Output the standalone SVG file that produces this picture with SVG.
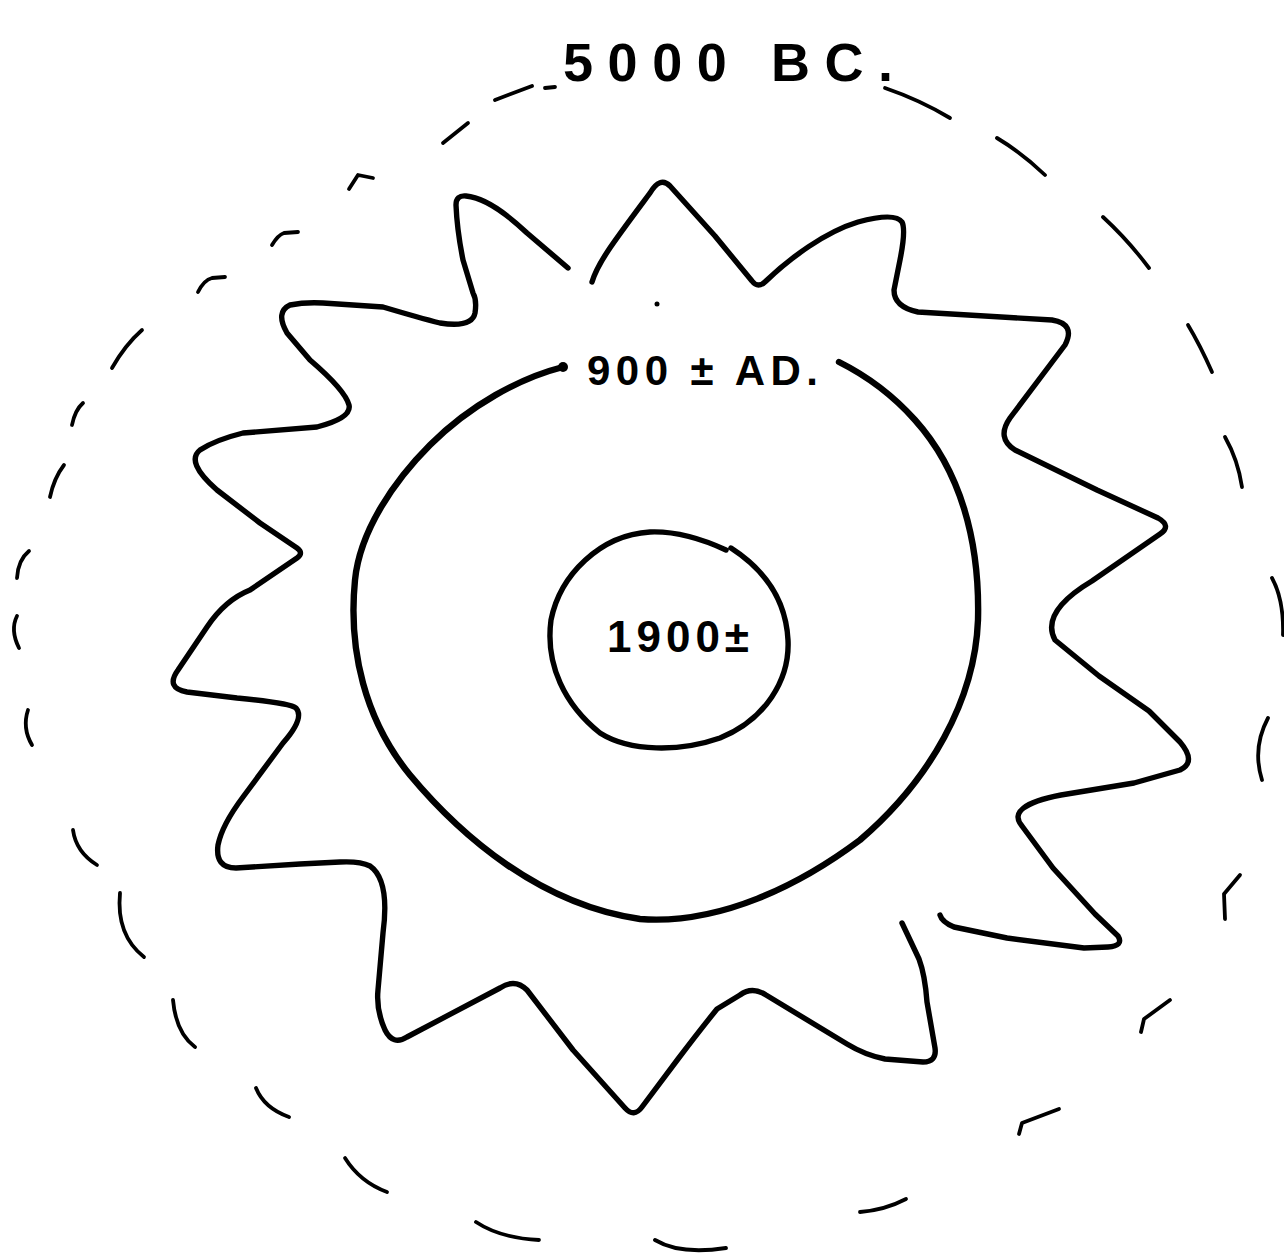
<svg xmlns="http://www.w3.org/2000/svg" width="1284" height="1254" viewBox="0 0 1284 1254">
<style>
.ink{fill:none;stroke:#000;stroke-linecap:round;stroke-linejoin:round}
.dash{stroke-width:3.8}
.star{stroke-width:5.4}
.mid{stroke-width:6.4}
.inner{stroke-width:5.4}
.lbl{font-family:"Liberation Sans","DejaVu Sans",sans-serif;font-weight:bold;fill:#000}
</style>
<rect width="1284" height="1254" fill="#fff"/>
<g id="outer-dashes" class="ink dash">
<path d="M495,100 L532,86"/>
<path d="M545,88 L555,87"/>
<path d="M443,143 L468,123"/>
<path d="M349,189 L358,175 L373,178"/>
<path d="M272,245 Q278,235 284,233 L298,232"/>
<path d="M198,292 Q204,280 212,278 L225,277"/>
<path d="M112,368 Q125,345 142,330"/>
<path d="M72,425 Q75,410 83,403"/>
<path d="M50,497 Q54,478 64,465"/>
<path d="M17,578 Q18,560 29,551"/>
<path d="M17,616 Q10,630 19,648"/>
<path d="M28,710 Q22,728 32,745"/>
<path d="M73,830 Q76,852 97,865"/>
<path d="M120,893 Q116,935 144,957"/>
<path d="M173,1000 Q176,1033 195,1047"/>
<path d="M256,1088 Q264,1108 289,1117"/>
<path d="M345,1158 Q360,1182 387,1192"/>
<path d="M476,1222 Q500,1238 539,1240"/>
<path d="M655,1240 Q680,1255 726,1248"/>
<path d="M860,1212 Q885,1210 906,1199"/>
<path d="M1019,1134 L1022,1123 L1059,1109"/>
<path d="M1141,1032 L1144,1019 L1170,1000"/>
<path d="M1225,919 L1224,894 L1240,875"/>
<path d="M1268,718 Q1252,748 1262,780"/>
<path d="M1272,578 Q1284,600 1283,635"/>
<path d="M1225,437 Q1238,460 1242,487"/>
<path d="M1188,325 Q1200,345 1212,372"/>
<path d="M1103,217 Q1128,240 1149,268"/>
<path d="M997,138 Q1022,153 1045,175"/>
<path d="M885,88 Q920,100 950,118"/>
</g>
<g id="star" class="ink star">
<path d="M592,282 C598,262 615,240 650,193 Q660,176 670,186 L715,236 L752,281 Q758,289 766,281 C790,258 825,232 858,222 Q895,212 902,222 Q906,230 900,260 L894,290 Q894,307 918,312 L1052,320 Q1076,324 1065,345 L1010,418 Q996,438 1015,450 L1097,490 L1158,518 Q1172,526 1160,534 L1092,581 Q1040,612 1055,640 L1099,676 L1149,711 L1180,742 Q1197,762 1180,770 L1134,783 L1061,795 Q1005,806 1022,826 L1053,868 L1095,914 L1118,936 Q1124,946 1108,947 L1084,948 L1007,938 L954,927 Q942,922 940,915"/>
<path d="M902,923 L919,959 Q925,975 927,1002 L935,1048 Q937,1062 923,1062 L885,1059 Q865,1055 847,1044 L766,995 Q752,986 740,995 L717,1009 Q700,1030 678,1059 L642,1107 Q634,1118 625,1108 L573,1050 L527,990 Q515,978 500,988 L407,1037 Q393,1046 385,1030 Q376,1010 378,990 L383,933 Q390,880 370,866 Q360,861 340,862 L300,864 L236,868 Q215,868 218,845 Q222,825 243,797 L283,743 Q305,718 296,708 Q290,703 237,698 L187,692 Q165,688 178,670 L207,627 Q225,600 250,590 L297,558 Q304,553 297,548 L260,523 L217,490 Q185,462 200,450 Q215,440 243,433 L317,427 Q352,418 349,405 Q345,390 310,360 L287,333 Q275,312 290,305 Q305,302 323,303 L383,307 Q420,318 440,323 Q472,328 475,313 Q477,300 473,293 L463,260 Q457,230 456,205 Q456,195 466,196 Q490,198 527,233 L568,268"/>
<circle cx="657" cy="304" r="2.5" fill="#000" stroke="none"/>
</g>
<g id="middle-ring">
<path class="ink mid" d="M563,367 C520,378 470,405 430,445 C395,480 360,530 355,580 C348,650 365,720 410,775 C460,835 540,905 640,919 C720,925 800,885 860,840 C930,780 975,700 978,620 C980,540 960,470 915,420 C890,392 865,375 839,362"/>
<circle cx="563" cy="367" r="5" fill="#000"/>
<text class="lbl" x="587" y="385" font-size="42" textLength="231" lengthAdjust="spacing">900 ± AD.</text>
</g>
<g id="inner-ring">
<path class="ink inner" d="M726,550 C700,538 675,531 650,532 C600,535 560,575 551,620 C545,665 565,705 600,733 C630,752 680,752 720,738 C765,720 790,680 788,640 C786,600 765,570 731,548"/>
<text class="lbl" x="607" y="652" font-size="44" textLength="142" lengthAdjust="spacing">1900±</text>
</g>
<g id="outer-label">
<text class="lbl" x="563" y="81" font-size="54" textLength="330" lengthAdjust="spacing">5000 BC.</text>
</g>
</svg>
